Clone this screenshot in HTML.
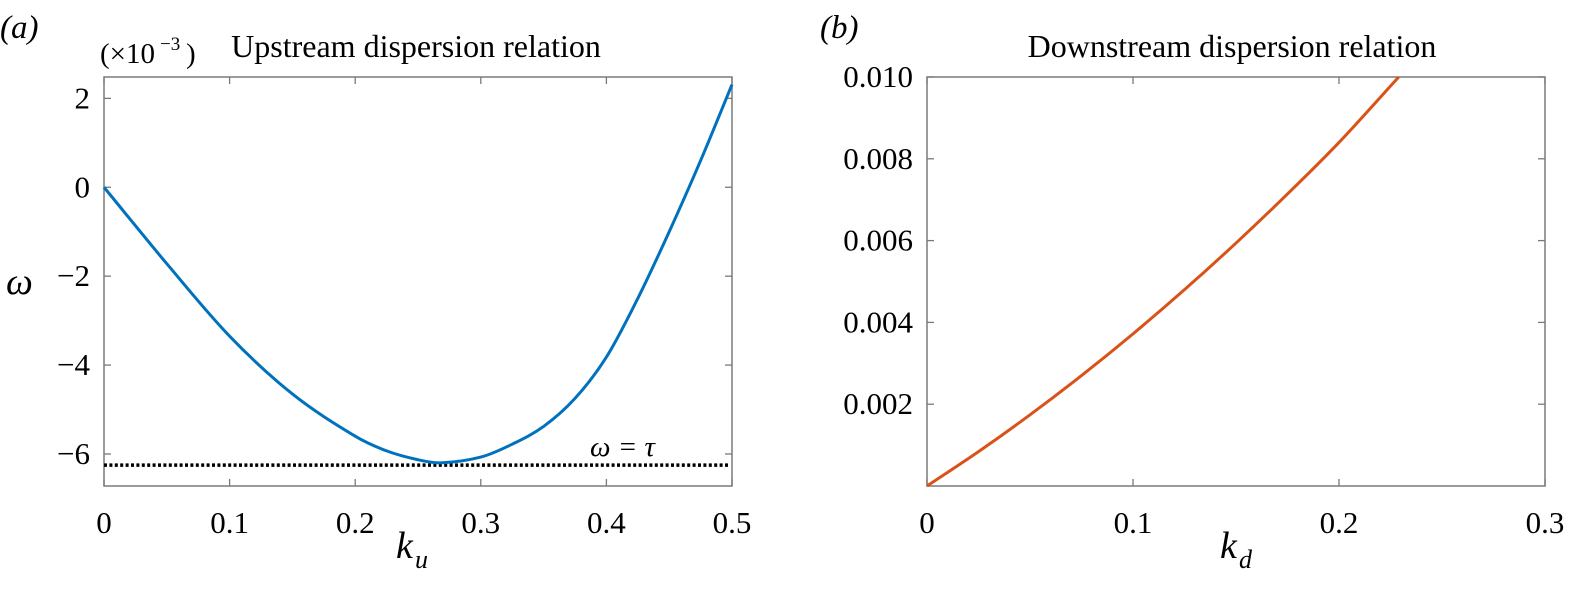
<!DOCTYPE html>
<html><head><meta charset="utf-8"><style>
body{margin:0;background:#fff}
svg{display:block;font-family:"Liberation Serif",serif}
</style></head><body>
<svg width="1573" height="592" viewBox="0 0 1573 592">
<g id="gA"></g>
<g id="gB"></g>
</svg>
<script>
const upK=[0,0.05,0.1,0.15,0.2,0.225,0.25,0.268,0.3,0.325,0.35,0.375,0.4,0.425,0.45,0.475,0.5];
const upW=[0,-1.72,-3.35,-4.65,-5.6,-5.93,-6.13,-6.2,-6.07,-5.78,-5.38,-4.75,-3.82,-2.5,-1.0,0.6,2.31];
const tauLevel=-6.25;
const upXTicks=[0,0.1,0.2,0.3,0.4,0.5];
const upXLabels=["0","0.1","0.2","0.3","0.4","0.5"];
const upYTicks=[2,0,-2,-4,-6];
const upYLabels=["2","0","\u22122","\u22124","\u22126"];
const dnK=[0,0.025,0.05,0.075,0.1,0.125,0.15,0.175,0.2,0.229];
const dnW=[0,0.00084,0.00174,0.0027,0.00372,0.0048,0.00594,0.00714,0.0084,0.0100];
const dnXTicks=[0,0.1,0.2,0.3];
const dnXLabels=["0","0.1","0.2","0.3"];
const dnYTicks=[0.002,0.004,0.006,0.008,0.010];
const dnYLabels=["0.002","0.004","0.006","0.008","0.010"];

const NS="http://www.w3.org/2000/svg";
function mk(p,t,a,txt){const e=document.createElementNS(NS,t);for(const k in a)e.setAttribute(k,a[k]);if(txt!==undefined)e.textContent=txt;p.appendChild(e);return e;}
function smooth(pts){let d="M"+pts[0][0]+","+pts[0][1];for(let i=0;i<pts.length-1;i++){const p0=pts[Math.max(0,i-1)],p1=pts[i],p2=pts[i+1],p3=pts[Math.min(pts.length-1,i+2)];
const h=p2[0]-p1[0];
const s1=(p2[1]-p0[1])/(p2[0]-p0[0]||1),s2=(p3[1]-p1[1])/(p3[0]-p1[0]||1);
const c1=[p1[0]+h/3,p1[1]+s1*h/3],c2=[p2[0]-h/3,p2[1]-s2*h/3];
d+=" C"+c1[0]+","+c1[1]+" "+c2[0]+","+c2[1]+" "+p2[0]+","+p2[1];}return d;}

function panel(g,o){
 const X=v=>o.x0+(v-o.xmin)/(o.xmax-o.xmin)*(o.x1-o.x0);
 const Y=v=>o.y1-(v-o.ymin)/(o.ymax-o.ymin)*(o.y1-o.y0);
 let e=mk(g,"rect",{x:o.x0,y:o.y0,width:o.x1-o.x0,height:o.y1-o.y0,fill:"none",stroke:"#7a7a7a","stroke-width":1.5});
 
 o.xt.forEach((t,i)=>{const x=X(t);
  mk(g,"line",{x1:x,x2:x,y1:o.y1,y2:o.y1-7,stroke:"#7a7a7a","stroke-width":1.3});
  mk(g,"line",{x1:x,x2:x,y1:o.y0,y2:o.y0+7,stroke:"#7a7a7a","stroke-width":1.3});
  e=mk(g,"text",{x:x,y:o.y1+47,"font-size":31,"text-anchor":"middle"},o.xl[i]);
  });
 o.yt.forEach((t,i)=>{const y=Y(t);
  mk(g,"line",{x1:o.x0,x2:o.x0+7,y1:y,y2:y,stroke:"#7a7a7a","stroke-width":1.3});
  mk(g,"line",{x1:o.x1,x2:o.x1-7,y1:y,y2:y,stroke:"#7a7a7a","stroke-width":1.3});
  e=mk(g,"text",{x:o.x0-14,y:y+10,"font-size":31,"text-anchor":"end"},o.yl[i]);
  });
 return {X,Y};
}

const gA=document.getElementById("gA");
const A=panel(gA,{x0:104,x1:732,y0:77,y1:486,xmin:0,xmax:0.5,ymin:-6.72,ymax:2.48,xt:upXTicks,xl:upXLabels,yt:upYTicks,yl:upYLabels});
let e=mk(gA,"line",{x1:A.X(0),x2:A.X(0.5)-2,y1:A.Y(tauLevel),y2:A.Y(tauLevel),stroke:"#000","stroke-width":3.5,"stroke-dasharray":"3,2.4"});

e=mk(gA,"path",{d:smooth(upK.map((k,i)=>[A.X(k),A.Y(upW[i])])),fill:"none",stroke:"#0072BD","stroke-width":3});

e=mk(gA,"text",{x:590,y:456,"font-size":29,"font-style":"italic"},"ω = τ");

e=mk(gA,"text",{x:0,y:38,"font-size":33,"font-style":"italic"},"(a)");

e=mk(gA,"text",{x:100,y:63,"font-size":29},"(×10");

mk(gA,"text",{x:160,y:50,"font-size":19},"−3");
mk(gA,"text",{x:186,y:63,"font-size":29},")");
e=mk(gA,"text",{x:416,y:57,"font-size":32,"text-anchor":"middle"},"Upstream dispersion relation");

e=mk(gA,"text",{x:6,y:294,"font-size":38,"font-style":"italic"},"ω");

e=mk(gA,"text",{x:396,y:558,"font-size":38,"font-style":"italic"},"k");

mk(gA,"text",{x:415,y:568,"font-size":26,"font-style":"italic"},"u");

const gB=document.getElementById("gB");
const B=panel(gB,{x0:927,x1:1545,y0:77,y1:486,xmin:0,xmax:0.3,ymin:0,ymax:0.01,xt:dnXTicks,xl:dnXLabels,yt:dnYTicks,yl:dnYLabels});
e=mk(gB,"path",{d:smooth(dnK.map((k,i)=>[B.X(k),B.Y(dnW[i])])),fill:"none",stroke:"#D95319","stroke-width":3});

e=mk(gB,"text",{x:820,y:38,"font-size":33,"font-style":"italic"},"(b)");

e=mk(gB,"text",{x:1232,y:57,"font-size":32,"text-anchor":"middle"},"Downstream dispersion relation");

e=mk(gB,"text",{x:1220,y:558,"font-size":38,"font-style":"italic"},"k");

mk(gB,"text",{x:1239,y:568,"font-size":26,"font-style":"italic"},"d");
</script>
</body></html>
